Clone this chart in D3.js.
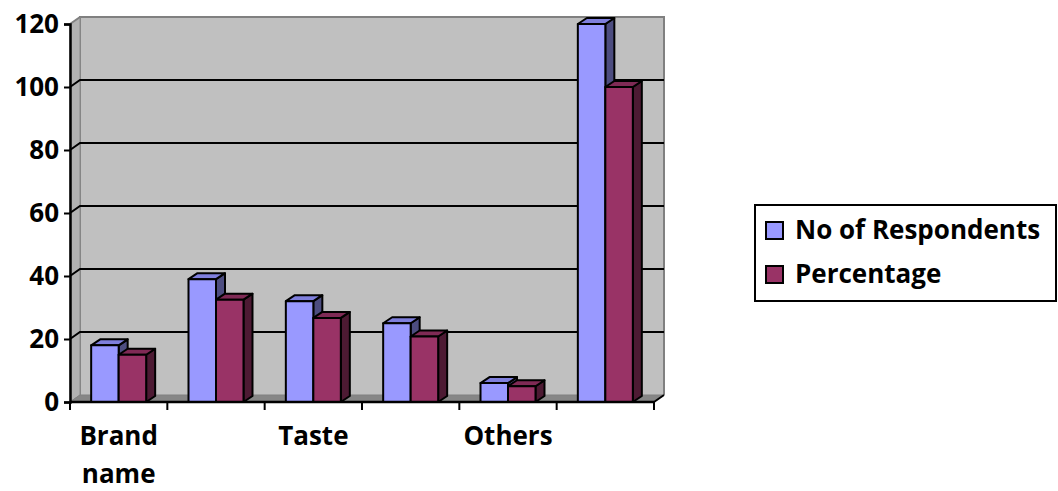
<!DOCTYPE html>
<html>
<head>
<meta charset="utf-8">
<script src="https://cdn.jsdelivr.net/npm/d3@7"></script>
<style>
  html, body { margin: 0; padding: 0; background: #ffffff; }
  svg { display: block; }
  text { font-family: "Open Sans", Lato, sans-serif; font-weight: bold; fill: #000; }
</style>
</head>
<body>
<svg id="chart" width="1058" height="491"></svg>
<script>
// Categories (only every other label fits under the axis)
const categories = ["Brand name", "", "Taste", "", "Others", ""];
const seriesNames = ["No of Respondents", "Percentage"];
const respondents = [18, 39, 32, 25, 6, 120];
const percentage = [15, 32.5, 26.7, 20.8, 5, 100];
const yTicks = [0, 20, 40, 60, 80, 100, 120];

const faceColors = [
  { front: "#9999ff", top: "#7f7fdc", side: "#4d4d80" },
  { front: "#993366", top: "#7f2a55", side: "#4d1a33" }
];

const FONT = "'Open Sans', Lato, sans-serif";
const FONT_SIZE = 26;

const svg = d3.select("#chart");

// Plot frame: front plane and the depth offset of the back wall
const plotLeft = 70, plotRight = 654, plotBottom = 402, plotTop = 24;
const depthX = 10, depthY = -7;
const barDX = 9, barDY = -6;

const y = d3.scaleLinear().domain([0, 120]).range([plotBottom, plotTop]);
const x0 = d3.scaleBand().domain(d3.range(categories.length)).range([plotLeft, plotRight]).padding(0);
const x1 = d3.scaleBand().domain(seriesNames).range([0, x0.bandwidth()]).paddingInner(0).paddingOuter(0.77);

const rows = categories.map((c, i) => ({ i, values: [respondents[i], percentage[i]] }));

// Back wall
svg.append("rect")
  .attr("x", plotLeft + depthX).attr("y", plotTop + depthY)
  .attr("width", plotRight - plotLeft).attr("height", plotBottom - plotTop)
  .attr("fill", "#c0c0c0");
svg.append("path")
  .attr("d", `M${plotLeft + depthX},${plotBottom + depthY} V${plotTop + depthY} H${plotRight + depthX} V${plotBottom + depthY}`)
  .attr("fill", "none").attr("stroke", "#808080").attr("stroke-width", 2);

// Left side wall
svg.append("path")
  .attr("d", `M${plotLeft},${plotBottom} L${plotLeft},${plotTop} L${plotLeft + depthX},${plotTop + depthY} L${plotLeft + depthX},${plotBottom + depthY} Z`)
  .attr("fill", "#b2b2b2").attr("stroke", "#8a8a8a").attr("stroke-width", 1);

// Floor
svg.append("path")
  .attr("d", `M${plotLeft},${plotBottom} L${plotLeft + depthX},${plotBottom + depthY} L${plotRight + depthX},${plotBottom + depthY} L${plotRight},${plotBottom} Z`)
  .attr("fill", "#868686").attr("stroke", "#808080").attr("stroke-width", 1);

// Gridlines across side wall and back wall
const grid = svg.append("g");
yTicks.filter(t => t > 0 && t < 120).forEach(t => {
  grid.append("path")
    .attr("d", `M${plotLeft},${y(t)} L${plotLeft + depthX},${y(t) + depthY} H${plotRight + depthX}`)
    .attr("fill", "none").attr("stroke", "#000").attr("stroke-width", 2);
});
// Top corner connector at the axis max
grid.append("path")
  .attr("d", `M${plotLeft},${y(120)} L${plotLeft + depthX},${y(120) + depthY}`)
  .attr("stroke", "#808080").attr("stroke-width", 2);

// Bars drawn as boxes: front, top and side faces
const bars = svg.append("g");
rows.forEach(r => {
  r.values.forEach((v, s) => {
    const bx = x0(r.i) + x1(seriesNames[s]);
    const bw = x1.bandwidth();
    const by = y(v);
    const c = faceColors[s];
    const g = bars.append("g")
      .attr("stroke", "#000").attr("stroke-width", 2).attr("stroke-linejoin", "round");
    g.append("path")
      .attr("d", `M${bx + bw},${plotBottom} L${bx + bw + barDX},${plotBottom + barDY} L${bx + bw + barDX},${by + barDY} L${bx + bw},${by} Z`)
      .attr("fill", c.side);
    g.append("path")
      .attr("d", `M${bx},${by} L${bx + barDX},${by + barDY} L${bx + bw + barDX},${by + barDY} L${bx + bw},${by} Z`)
      .attr("fill", c.top);
    g.append("rect")
      .attr("x", bx).attr("y", by).attr("width", bw).attr("height", plotBottom - by)
      .attr("fill", c.front);
  });
});

// Y axis
const yAxis = svg.append("g")
  .attr("transform", `translate(${plotLeft},0)`)
  .call(d3.axisLeft(y).tickValues(yTicks).tickSize(6).tickPadding(5));
yAxis.select(".domain").attr("stroke", "#000").attr("stroke-width", 2.5);
yAxis.selectAll(".tick line").attr("stroke", "#000").attr("stroke-width", 2);
yAxis.selectAll(".tick text")
  .attr("font-size", FONT_SIZE).attr("font-family", FONT).attr("font-weight", "bold")
  .attr("fill", "#000");

// X axis with ticks at category boundaries
const xAxis = svg.append("g").attr("transform", `translate(0,${plotBottom})`);
xAxis.append("line")
  .attr("x1", plotLeft).attr("x2", plotRight).attr("stroke", "#000").attr("stroke-width", 2.5);
d3.range(categories.length + 1).forEach(k => {
  const xx = k < categories.length ? x0(k) : plotRight;
  xAxis.append("line")
    .attr("x1", xx).attr("x2", xx).attr("y1", 0).attr("y2", 8)
    .attr("stroke", "#000").attr("stroke-width", 2);
});
// Right end of floor edge
xAxis.append("line")
  .attr("x1", plotRight).attr("y1", 0).attr("x2", plotRight + depthX).attr("y2", depthY)
  .attr("stroke", "#000").attr("stroke-width", 2);

// Category labels, wrapped onto two lines where needed
categories.forEach((c, i) => {
  if (!c) return;
  const words = c.split(" ");
  const cx = x0(i) + x0.bandwidth() / 2;
  const t = svg.append("text")
    .attr("x", cx)
    .attr("y", 445)
    .attr("text-anchor", "middle")
    .attr("font-size", FONT_SIZE);
  words.forEach((w, k) => {
    t.append("tspan").attr("x", cx).attr("dy", k === 0 ? 0 : 38).text(w);
  });
});

// Legend
const legend = svg.append("g");
legend.append("rect")
  .attr("x", 755).attr("y", 205).attr("width", 301).attr("height", 96)
  .attr("fill", "#fff").attr("stroke", "#000").attr("stroke-width", 2);
seriesNames.forEach((name, s) => {
  const ly = 239 + s * 44;
  legend.append("rect")
    .attr("x", 766).attr("y", ly - 17).attr("width", 17).attr("height", 17)
    .attr("fill", faceColors[s].front).attr("stroke", "#000").attr("stroke-width", 2);
  legend.append("text")
    .attr("x", 795).attr("y", ly)
    .attr("font-size", FONT_SIZE)
    .text(name);
});
</script>
</body>
</html>
